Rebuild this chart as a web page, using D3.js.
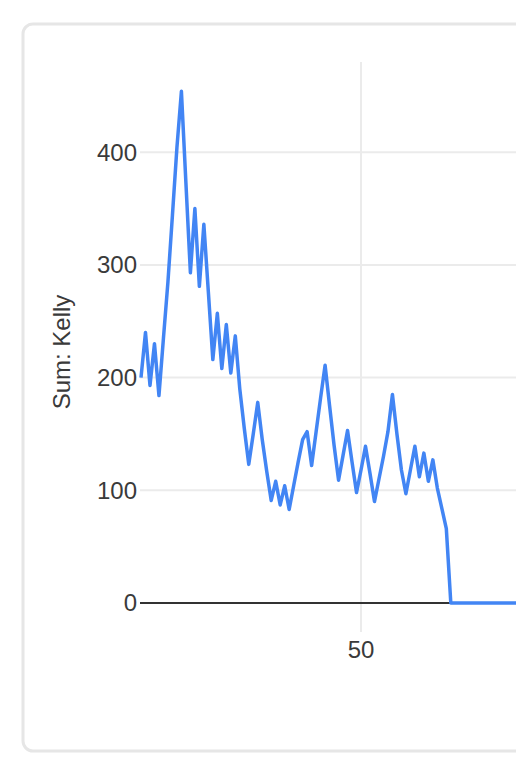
<html>
	<head>
		<script src="https://d3js.org/d3.v7.min.js"></script>
		<style>
			body { margin: 0; overflow: hidden; background: #fff; }
			text { font-family: "Liberation Sans", Arial, sans-serif; }
		</style>
	</head>
	<body>
		<svg width="516" height="776"></svg>
		<script>

		// Sum of Kelly per index
		var kelly = [200, 240, 193, 230, 184, 235, 285, 344, 404, 454,
			373, 293, 350, 281, 336, 276, 216, 257, 208, 247,
			204, 237, 190, 155, 123, 150, 178, 145, 117, 91,
			108, 87, 104, 83, 104, 125, 145, 152, 122, 152,
			182, 211, 175, 140, 109, 131, 153, 125, 98, 118,
			139, 115, 90, 110, 130, 152, 185, 150, 118, 97,
			118, 139, 112, 133, 108, 127, 102, 84, 66, 0,
			0, 0, 0, 0, 0, 0, 0, 0, 0, 0,
			0, 0, 0, 0, 0, 0, 0, 0, 0, 0];
		var yTicks = [0, 100, 200, 300, 400];
		var xTicks = [50];
		var yLabel = "Sum: Kelly";

		var data = kelly.map(function(v, i) { return {x: i + 1, y: v}; });

		var svg = d3.select("svg");

		// card
		svg.append("rect")
			.attr("x", 23).attr("y", 24)
			.attr("width", 700).attr("height", 727)
			.attr("rx", 10)
			.attr("fill", "#fff")
			.attr("stroke", "#e6e6e6")
			.attr("stroke-width", 3);

		var plotLeft = 141, plotTop = 62, plotBottom = 603;
		var x = d3.scaleLinear().domain([1, 90]).range([plotLeft, plotLeft + 89 * 4.49]);
		var y = d3.scaleLinear().domain([0, 480]).range([plotBottom, plotTop]);

		var g = svg.append("g");

		// horizontal grid
		g.selectAll(".hgrid")
			.data(yTicks.filter(function(d) { return d > 0; }))
			.enter().append("line")
			.attr("x1", plotLeft - 1).attr("x2", 800)
			.attr("y1", function(d) { return y(d); })
			.attr("y2", function(d) { return y(d); })
			.attr("stroke", "#ebebeb")
			.attr("stroke-width", 2);

		// vertical grid + x ticks
		g.selectAll(".vgrid")
			.data(xTicks)
			.enter().append("line")
			.attr("x1", function(d) { return x(d); })
			.attr("x2", function(d) { return x(d); })
			.attr("y1", plotTop).attr("y2", plotBottom + 29)
			.attr("stroke", "#ebebeb")
			.attr("stroke-width", 2);

		// zero baseline
		g.append("line")
			.attr("x1", plotLeft - 1).attr("x2", 800)
			.attr("y1", y(0)).attr("y2", y(0))
			.attr("stroke", "#333")
			.attr("stroke-width", 2);

		// y tick labels
		g.selectAll(".ylab")
			.data(yTicks)
			.enter().append("text")
			.attr("x", 137)
			.attr("y", function(d) { return y(d); })
			.attr("dy", "0.35em")
			.attr("text-anchor", "end")
			.attr("fill", "#3a3a3a")
			.attr("font-size", 24)
			.text(function(d) { return d; });

		// x tick labels
		g.selectAll(".xlab")
			.data(xTicks)
			.enter().append("text")
			.attr("x", function(d) { return x(d); })
			.attr("y", 658)
			.attr("text-anchor", "middle")
			.attr("fill", "#3a3a3a")
			.attr("font-size", 24)
			.text(function(d) { return d; });

		// y axis title
		g.append("text")
			.attr("transform", "translate(70,352) rotate(-90)")
			.attr("text-anchor", "middle")
			.attr("fill", "#3a3a3a")
			.attr("font-size", 24)
			.text(yLabel);

		var line = d3.line()
			.x(function(d) { return x(d.x); })
			.y(function(d) { return y(d.y); });

		g.append("path")
			.datum(data)
			.attr("fill", "none")
			.attr("stroke", "#4285f4")
			.attr("stroke-width", 3.5)
			.attr("stroke-linejoin", "round")
			.attr("d", line);
		</script>
	</body>
</html>
